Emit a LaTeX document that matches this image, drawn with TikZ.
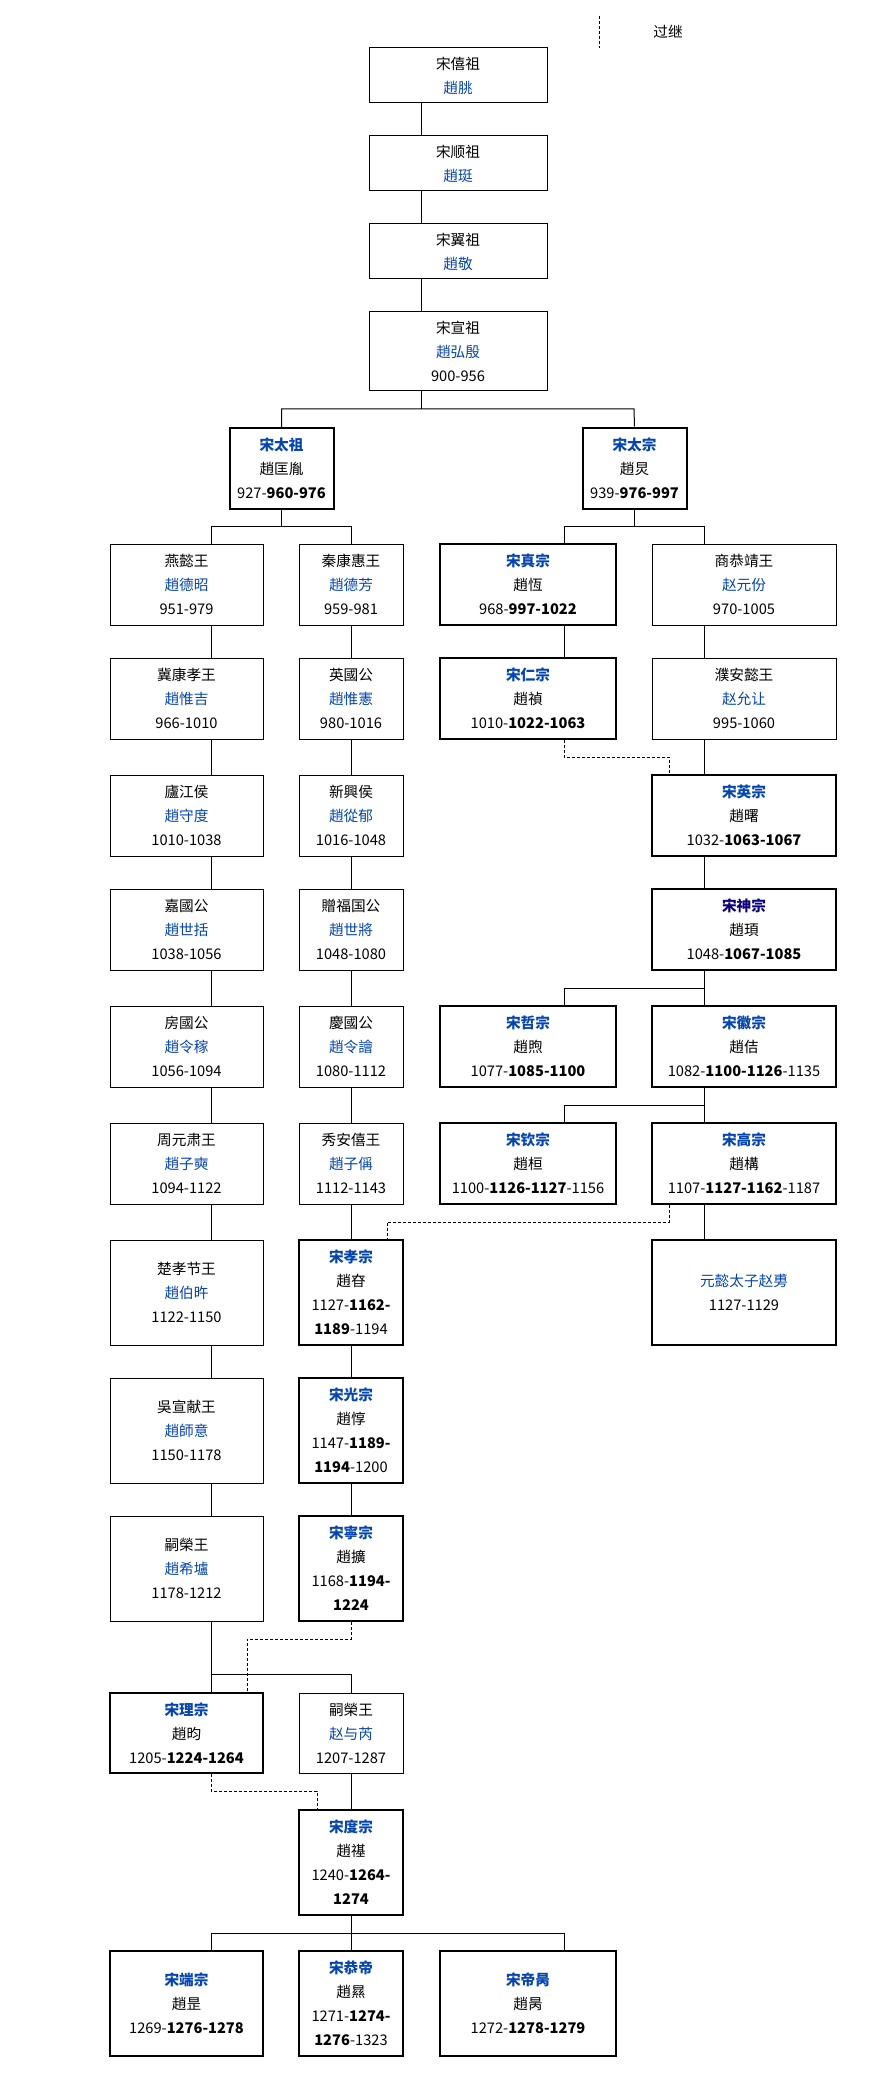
\documentclass[tikz,border=0pt]{standalone}
\usepackage{fontspec}
\setmainfont{Noto Sans CJK SC}
\definecolor{lnk}{HTML}{0645AD}
\definecolor{vlnk}{HTML}{0B0080}
\newcommand{\lk}[1]{\textcolor{lnk}{#1}}
\newcommand{\emp}[1]{\textbf{\textcolor{lnk}{#1}}}

\begin{document}
\begin{tikzpicture}[x=0.75pt,y=-0.75pt,line width=0.75pt,font=\fontsize{11}{18}\selectfont,
  box/.style={draw,line width=0.75pt,align=center,inner sep=0pt},
  ruler/.style={box,line width=1.5pt},
  wa/.style={minimum width=114.75pt},
  wb/.style={minimum width=78pt},
  wc/.style={minimum width=132pt},
  wd/.style={minimum width=138pt},
  we/.style={minimum width=133.5pt},
  ha/.style={minimum height=60.75pt},
  hb/.style={minimum height=78.75pt},
  adopt/.style={dash pattern=on 2.25pt off 1.5pt}]
\useasboundingbox (0,0) rectangle (870,2079);
\coordinate (ca) at (211,0); \coordinate (cb) at (281,0); \coordinate (cc) at (351,0);
\coordinate (cd) at (421,0); \coordinate (ce) at (564,0); \coordinate (cf) at (634,0);
\coordinate (cg) at (704,0);
\coordinate (da) at (247,0); \coordinate (db) at (317,0); \coordinate (dc) at (387,0);
\coordinate (dd) at (669,0);
\coordinate (b1) at (0,409); \coordinate (b2) at (0,526); \coordinate (b3) at (0,988);
\coordinate (b4) at (0,1105); \coordinate (b5) at (0,1674); \coordinate (b6) at (0,1933);
\coordinate (d1) at (0,757); \coordinate (d2) at (0,1222); \coordinate (d3) at (0,1639);
\coordinate (d4) at (0,1791);

\draw[adopt] (599,16) -- (599,48);
\node (lgd) at (668,32) {过继};

\node[box,we,minimum height=41.25pt] (xizu) at (458,75.5) {宋僖祖\\\lk{趙朓}};
\node[box,we,minimum height=41.25pt] (shunzu) at (458,163.5) {宋顺祖\\\lk{趙珽}};
\node[box,we,minimum height=41.25pt] (yizu) at (458,251.5) {宋翼祖\\\lk{趙敬}};
\node[box,we,minimum height=59.25pt] (xuanzu) at (458,351.5) {宋宣祖\\\lk{趙弘殷}\\900-956};

\node[ruler,wb,ha] (taizu) at (281.5,468.5) {\emp{宋太祖}\\趙匡胤\\927-\textbf{960-976}};
\node[ruler,wb,ha] (taizong) at (634.5,468) {\emp{宋太宗}\\趙炅\\939-\textbf{976-997}};

\node[box,wa,ha] (yanyi) at (186.5,584.5) {燕懿王\\\lk{趙德昭}\\951-979};
\node[box,wb,ha] (qinkh) at (351,584.5) {秦康惠王\\\lk{趙德芳}\\959-981};
\node[ruler,wc,ha] (zhenz) at (528,584.5) {\emp{宋真宗}\\趙恆\\968-\textbf{997-1022}};
\node[box,wd,ha] (shanggj) at (744,584.5) {商恭靖王\\\lk{赵元份}\\970-1005};

\node[box,wa,ha] (jikx) at (186.5,698.5) {冀康孝王\\\lk{趙惟吉}\\966-1010};
\node[box,wb,ha] (yingg) at (351,698.5) {英國公\\\lk{趙惟憲}\\980-1016};
\node[ruler,wc,ha] (renz) at (528,698.5) {\emp{宋仁宗}\\趙禎\\1010-\textbf{1022-1063}};
\node[box,wd,ha] (puan) at (744,698.5) {濮安懿王\\\lk{赵允让}\\995-1060};

\node[box,wa,ha] (lujx) at (186.5,815.5) {廬江侯\\\lk{趙守度}\\1010-1038};
\node[box,wb,ha] (xinx) at (351,815.5) {新興侯\\\lk{趙從郁}\\1016-1048};
\node[ruler,wd,ha] (yingz) at (744,815.5) {\emp{宋英宗}\\趙曙\\1032-\textbf{1063-1067}};

\node[box,wa,ha] (jiag) at (186.5,929.5) {嘉國公\\\lk{趙世括}\\1038-1056};
\node[box,wb,ha] (zengf) at (351,929.5) {贈福国公\\\lk{趙世將}\\1048-1080};
\node[ruler,wd,ha] (shenz) at (744,929.5) {\textbf{\textcolor{vlnk}{宋神宗}}\\趙頊\\1048-\textbf{1067-1085}};

\node[box,wa,ha] (fangg) at (186.5,1046.5) {房國公\\\lk{趙令稼}\\1056-1094};
\node[box,wb,ha] (qingg) at (351,1046.5) {慶國公\\\lk{趙令譮}\\1080-1112};
\node[ruler,wc,ha] (zhez) at (528,1046.5) {\emp{宋哲宗}\\趙煦\\1077-\textbf{1085-1100}};
\node[ruler,wd,ha] (huiz) at (744,1046.5) {\emp{宋徽宗}\\趙佶\\1082-\textbf{1100-1126}-1135};

\node[box,wa,ha] (zhouys) at (186.5,1163.5) {周元肃王\\\lk{趙子奭}\\1094-1122};
\node[box,wb,ha] (xiuan) at (351,1163.5) {秀安僖王\\\lk{趙子偁}\\1112-1143};
\node[ruler,wc,ha] (qinz) at (528,1163.5) {\emp{宋钦宗}\\趙桓\\1100-\textbf{1126-1127}-1156};
\node[ruler,wd,ha] (gaoz) at (744,1163.5) {\emp{宋高宗}\\趙構\\1107-\textbf{1127-1162}-1187};

\node[box,wa,hb] (chuxj) at (186.5,1292.5) {楚孝节王\\\lk{趙伯旿}\\1122-1150};
\node[ruler,wb,hb] (xiaoz) at (351,1292.5) {\emp{宋孝宗}\\趙昚\\1127-\textbf{1162-}\\\textbf{1189}-1194};
\node[ruler,wd,hb] (yuany) at (744,1292.5) {\lk{元懿太子赵旉}\\1127-1129};

\node[box,wa,hb] (wuxx) at (186.5,1430.5) {吳宣献王\\\lk{趙師意}\\1150-1178};
\node[ruler,wb,hb] (guangz) at (351,1430.5) {\emp{宋光宗}\\趙惇\\1147-\textbf{1189-}\\\textbf{1194}-1200};

\node[box,wa,hb] (sir1) at (186.5,1568.5) {嗣榮王\\\lk{趙希壚}\\1178-1212};
\node[ruler,wb,hb] (ningz) at (351,1568.5) {\emp{宋寧宗}\\趙擴\\1168-\textbf{1194-}\\\textbf{1224}};

\node[ruler,wa,minimum height=60pt] (liz) at (186.5,1733) {\emp{宋理宗}\\趙昀\\1205-\textbf{1224-1264}};
\node[box,wb,minimum height=60pt] (sir2) at (351,1733) {嗣榮王\\\lk{赵与芮}\\1207-1287};

\node[ruler,wb,hb] (duz) at (351,1862) {\emp{宋度宗}\\趙禥\\1240-\textbf{1264-}\\\textbf{1274}};

\node[ruler,wa,hb] (duanz) at (186.5,2003) {\emp{宋端宗}\\趙昰\\1269-\textbf{1276-1278}};
\node[ruler,wb,hb] (gongd) at (351,2003) {\emp{宋恭帝}\\趙㬎\\1271-\textbf{1274-}\\\textbf{1276}-1323};
\node[ruler,wc,hb] (dib) at (528,2003) {\emp{宋帝昺}\\趙昺\\1272-\textbf{1278-1279}};

\foreach \a/\b in {xizu/shunzu,shunzu/yizu,yizu/xuanzu} \draw (\a.south -| cd) -- (\b.north -| cd);
\foreach \a/\b in {yanyi/jikx,jikx/lujx,lujx/jiag,jiag/fangg,fangg/zhouys,zhouys/chuxj,chuxj/wuxx,wuxx/sir1,sir1/liz}
  \draw (\a.south -| ca) -- (\b.north -| ca);
\foreach \a/\b in {qinkh/yingg,yingg/xinx,xinx/zengf,zengf/qingg,qingg/xiuan,xiuan/xiaoz,xiaoz/guangz,guangz/ningz,sir2/duz}
  \draw (\a.south -| cc) -- (\b.north -| cc);
\foreach \a/\b in {shanggj/puan,puan/yingz,yingz/shenz,shenz/huiz,huiz/gaoz,gaoz/yuany}
  \draw (\a.south -| cg) -- (\b.north -| cg);
\draw (zhenz.south -| ce) -- (renz.north -| ce);

\draw (xuanzu.south -| cd) -- (b1 -| cd);
\draw (taizu.north) |- (b1 -| cf) -- (taizong.north);
\draw (taizu.south) -- (b2 -| taizu);
\draw (yanyi.north -| ca) |- (b2 -| cc) -- (qinkh.north);
\draw (taizong.south) -- (b2 -| taizong);
\draw (zhenz.north -| ce) |- (b2 -| cg) -- (shanggj.north -| cg);
\draw (zhez.north -| ce) |- (b3 -| cg);
\draw (qinz.north -| ce) |- (b4 -| cg);
\draw (b5 -| ca) -| (sir2.north);
\draw (duanz.north -| ca) |- (b6 -| ce) -- (dib.north -| ce);
\draw (duz.south) -- (gongd.north);

\draw[adopt] (renz.south -| ce) |- (d1 -| dd) -- (yingz.north -| dd);
\draw[adopt] (gaoz.south -| dd) |- (d2 -| dc) -- (xiaoz.north -| dc);
\draw[adopt] (ningz.south) |- (d3 -| da) -- (liz.north -| da);
\draw[adopt] (liz.south -| ca) |- (d4 -| db) -- (duz.north -| db);
\end{tikzpicture}
\end{document}
